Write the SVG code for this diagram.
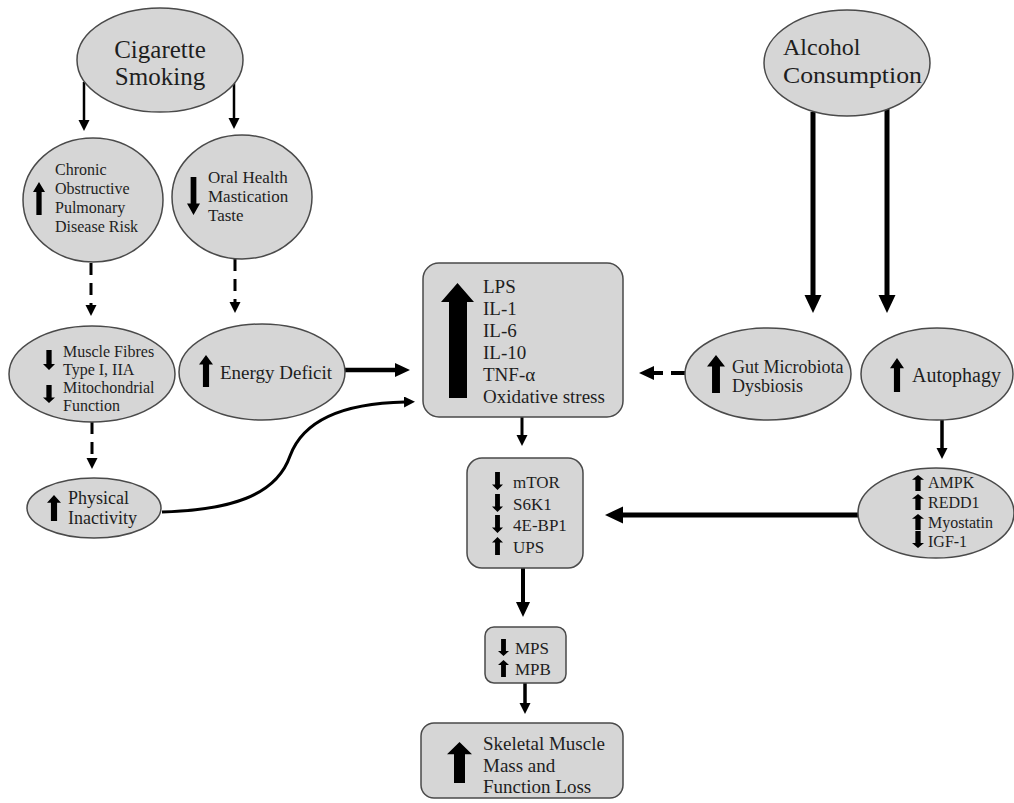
<svg xmlns="http://www.w3.org/2000/svg" xmlns:xlink="http://www.w3.org/1999/xlink" width="1014" height="803" viewBox="0 0 1014 803">
<style>
.n{fill:#d6d6d6;stroke:#4a4a4a;stroke-width:1.5}
.t{font-family:"Liberation Serif","Times New Roman",serif;fill:#1e1e1e}
.c{fill:none;stroke:#000}
.blk{fill:#000;stroke:none}
</style>
<defs>
<path id="up" d="M0.5,0 L1,0.3 L0.72,0.3 L0.72,1 L0.28,1 L0.28,0.3 L0,0.3 Z"/>
<path id="dn" d="M0.28,0 L0.72,0 L0.72,0.7 L1,0.7 L0.5,1 L0,0.7 L0.28,0.7 Z"/>
<marker id="ms" markerUnits="userSpaceOnUse" markerWidth="12" markerHeight="12" refX="1" refY="5.5" orient="auto"><path d="M0,0 L11,5.5 L0,11 Z" fill="#000"/></marker>
<marker id="mm" markerUnits="userSpaceOnUse" markerWidth="16" markerHeight="15" refX="1" refY="7" orient="auto"><path d="M0,0 L15,7 L0,14 Z" fill="#000"/></marker>
<marker id="ml" markerUnits="userSpaceOnUse" markerWidth="19" markerHeight="18" refX="1" refY="8.5" orient="auto"><path d="M0,0 L18,8.5 L0,17 Z" fill="#000"/></marker>
</defs>

<g id="connectors">
<line class="c" x1="84" y1="82" x2="84" y2="121" stroke-width="2.5" marker-end="url(#ms)"/>
<line class="c" x1="234" y1="82" x2="234" y2="119" stroke-width="2.5" marker-end="url(#ms)"/>
<line class="c" x1="91" y1="263" x2="91" y2="306" stroke-width="3" stroke-dasharray="12,8" marker-end="url(#ms)"/>
<line class="c" x1="235" y1="259" x2="235" y2="303" stroke-width="3" stroke-dasharray="12,8" marker-end="url(#ms)"/>
<line class="c" x1="92" y1="422" x2="92" y2="459" stroke-width="3" stroke-dasharray="12,8" marker-end="url(#ms)"/>
<line class="c" x1="345" y1="370" x2="396" y2="370" stroke-width="4.5" marker-end="url(#mm)"/>
<path class="c" d="M162,512 C230,510 276,496 290,456 C305,415 355,403 405,402" stroke-width="3" marker-end="url(#ms)"/>
<line class="c" x1="522" y1="417" x2="522" y2="436" stroke-width="3" marker-end="url(#ms)"/>
<line class="c" x1="523" y1="568" x2="523" y2="603" stroke-width="4" marker-end="url(#mm)"/>
<line class="c" x1="525" y1="683" x2="525" y2="704" stroke-width="3.5" marker-end="url(#ms)"/>
<line class="c" x1="813" y1="112" x2="813" y2="296" stroke-width="5" marker-end="url(#ml)"/>
<line class="c" x1="887" y1="108" x2="887" y2="296" stroke-width="5" marker-end="url(#ml)"/>
<line class="c" x1="685" y1="373" x2="653" y2="373" stroke-width="4" stroke-dasharray="14,8" marker-end="url(#mm)"/>
<line class="c" x1="942" y1="420" x2="942" y2="449" stroke-width="3.5" marker-end="url(#ms)"/>
<line class="c" x1="858" y1="515" x2="622" y2="515" stroke-width="5" marker-end="url(#ml)"/>
</g>

<g id="cigarette">
<ellipse class="n" cx="160" cy="60" rx="83" ry="52"/>
<text class="t" x="160" y="58" font-size="25" text-anchor="middle">Cigarette</text>
<text class="t" x="160" y="85" font-size="25" text-anchor="middle">Smoking</text>
</g>

<g id="copd">
<ellipse class="n" cx="93" cy="200" rx="70" ry="62"/>
<use href="#up" class="blk" transform="translate(33,182) scale(12,33)"/>
<text class="t" x="55" y="175" font-size="16">Chronic</text>
<text class="t" x="55" y="194" font-size="16">Obstructive</text>
<text class="t" x="55" y="213" font-size="16">Pulmonary</text>
<text class="t" x="55" y="232" font-size="16">Disease Risk</text>
</g>

<g id="oral">
<ellipse class="n" cx="242" cy="197" rx="70" ry="62"/>
<use href="#dn" class="blk" transform="translate(187,177) scale(13,38)"/>
<text class="t" x="208" y="183" font-size="17">Oral Health</text>
<text class="t" x="208" y="202" font-size="17">Mastication</text>
<text class="t" x="208" y="221" font-size="17">Taste</text>
</g>

<g id="muscle-fibres">
<ellipse class="n" cx="92" cy="374" rx="83" ry="48"/>
<use href="#dn" class="blk" transform="translate(43,350) scale(12,20)"/>
<use href="#dn" class="blk" transform="translate(43,385) scale(12,18)"/>
<text class="t" x="63" y="357" font-size="16">Muscle Fibres</text>
<text class="t" x="63" y="375" font-size="16">Type I, IIA</text>
<text class="t" x="63" y="393" font-size="16">Mitochondrial</text>
<text class="t" x="63" y="411" font-size="16">Function</text>
</g>

<g id="energy-deficit">
<ellipse class="n" cx="262" cy="372" rx="83" ry="48"/>
<use href="#up" class="blk" transform="translate(199,355) scale(14,32)"/>
<text class="t" x="220" y="379" font-size="19">Energy Deficit</text>
</g>

<g id="physical-inactivity">
<ellipse class="n" cx="94" cy="508" rx="67" ry="30"/>
<use href="#up" class="blk" transform="translate(47,495) scale(14,26)"/>
<text class="t" x="68" y="504" font-size="18">Physical</text>
<text class="t" x="68" y="524" font-size="18">Inactivity</text>
</g>

<g id="inflammation">
<rect class="n" x="423" y="263" width="200" height="154" rx="16"/>
<path class="blk" d="M457.5,283 L474,302 L467,302 L467,398 L449,398 L449,302 L441,302 Z"/>
<text class="t" x="483" y="293" font-size="19">LPS</text>
<text class="t" x="483" y="315" font-size="19">IL-1</text>
<text class="t" x="483" y="337" font-size="19">IL-6</text>
<text class="t" x="483" y="359" font-size="19">IL-10</text>
<text class="t" x="483" y="381" font-size="19">TNF-α</text>
<text class="t" x="483" y="403" font-size="19">Oxidative stress</text>
</g>

<g id="mtor">
<rect class="n" x="467" y="458" width="116" height="110" rx="15"/>
<use href="#dn" class="blk" transform="translate(492,472) scale(11,18)"/>
<use href="#dn" class="blk" transform="translate(492,494) scale(11,18)"/>
<use href="#dn" class="blk" transform="translate(492,515) scale(11,18)"/>
<use href="#up" class="blk" transform="translate(492,537) scale(11,18)"/>
<text class="t" x="513" y="488" font-size="17">mTOR</text>
<text class="t" x="513" y="510" font-size="17">S6K1</text>
<text class="t" x="513" y="531" font-size="17">4E-BP1</text>
<text class="t" x="513" y="553" font-size="17">UPS</text>
</g>

<g id="mps">
<rect class="n" x="485" y="627" width="81" height="56" rx="9"/>
<use href="#dn" class="blk" transform="translate(498,639) scale(11,17)"/>
<use href="#up" class="blk" transform="translate(498,660) scale(11,17)"/>
<text class="t" x="515" y="654" font-size="17">MPS</text>
<text class="t" x="515" y="675" font-size="17">MPB</text>
</g>

<g id="muscle-loss">
<rect class="n" x="421" y="723" width="202" height="75" rx="13"/>
<use href="#up" class="blk" transform="translate(447,742) scale(25,41)"/>
<text class="t" x="483" y="750" font-size="19">Skeletal Muscle</text>
<text class="t" x="483" y="772" font-size="19">Mass and</text>
<text class="t" x="483" y="793" font-size="19">Function Loss</text>
</g>

<g id="alcohol">
<ellipse class="n" cx="847" cy="63" rx="83" ry="53"/>
<text class="t" x="783" y="55" font-size="24">Alcohol</text>
<text class="t" x="783" y="83" font-size="24" textLength="139" lengthAdjust="spacingAndGlyphs">Consumption</text>
</g>

<g id="gut">
<ellipse class="n" cx="768" cy="374" rx="83" ry="46"/>
<use href="#up" class="blk" transform="translate(707,355) scale(18,38)"/>
<text class="t" x="732" y="373" font-size="18">Gut Microbiota</text>
<text class="t" x="732" y="392" font-size="18">Dysbiosis</text>
</g>

<g id="autophagy">
<ellipse class="n" cx="937" cy="374" rx="76" ry="46"/>
<use href="#up" class="blk" transform="translate(890,358) scale(14,34)"/>
<text class="t" x="912" y="382" font-size="20">Autophagy</text>
</g>

<g id="ampk">
<ellipse class="n" cx="936" cy="513" rx="78" ry="45"/>
<use href="#up" class="blk" transform="translate(912,475) scale(12,16)"/>
<use href="#up" class="blk" transform="translate(912,494) scale(12,16)"/>
<use href="#up" class="blk" transform="translate(912,514) scale(12,16)"/>
<use href="#dn" class="blk" transform="translate(912,531) scale(12,17)"/>
<text class="t" x="928" y="488" font-size="16">AMPK</text>
<text class="t" x="928" y="508" font-size="16">REDD1</text>
<text class="t" x="928" y="528" font-size="16">Myostatin</text>
<text class="t" x="928" y="547" font-size="16">IGF-1</text>
</g>
</svg>
